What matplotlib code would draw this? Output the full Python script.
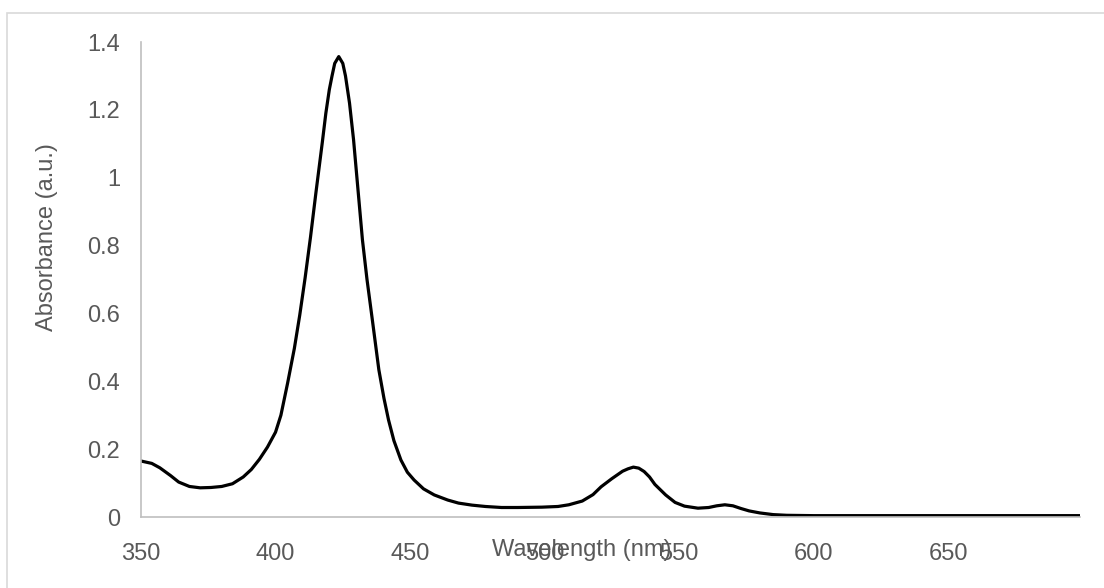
import matplotlib
matplotlib.use('Agg')
from matplotlib import pyplot as plt
from matplotlib.patches import Rectangle

# absorbance spectrum
wavelength = [350, 354, 357, 361, 364, 368, 372, 376, 380, 384, 388, 391, 394, 397, 400,
              402, 404.5, 407, 409, 411, 413, 415, 417.4, 418.7, 420, 421, 422, 423.5, 425,
              426, 427.5, 429, 430.7, 432.3, 434, 436, 438.4, 440.3, 442, 444, 446.6, 449,
              451.5, 455, 459, 464, 468, 473, 478, 484, 490, 499, 505, 509, 514, 518, 521,
              525, 529, 531, 533, 535, 537, 539, 541, 545, 548.5, 552, 557, 561, 564, 567,
              570, 573, 576, 580, 585, 590, 600, 620, 650, 680, 699]
absorbance = [0.165, 0.158, 0.145, 0.122, 0.103, 0.090, 0.086, 0.087, 0.090, 0.098, 0.118,
              0.140, 0.170, 0.206, 0.250, 0.300, 0.395, 0.497, 0.595, 0.705, 0.825, 0.955,
              1.105, 1.190, 1.260, 1.300, 1.337, 1.357, 1.337, 1.300, 1.220, 1.112, 0.960,
              0.817, 0.700, 0.580, 0.434, 0.350, 0.286, 0.225, 0.168, 0.132, 0.109, 0.083,
              0.065, 0.050, 0.041, 0.035, 0.031, 0.028, 0.028, 0.029, 0.031, 0.036, 0.047,
              0.066, 0.089, 0.113, 0.135, 0.142, 0.147, 0.144, 0.134, 0.118, 0.096, 0.065,
              0.043, 0.032, 0.026, 0.028, 0.033, 0.036, 0.033, 0.025, 0.018, 0.012, 0.007,
              0.005, 0.004, 0.004, 0.004, 0.004, 0.004]

x_ticks = [350, 400, 450, 500, 550, 600, 650]
y_ticks = [0, 0.2, 0.4, 0.6, 0.8, 1.0, 1.2, 1.4]
y_labels = ['0', '0.2', '0.4', '0.6', '0.8', '1', '1.2', '1.4']

plt.rcParams['font.family'] = ['Liberation Sans', 'DejaVu Sans']
W, H = 1104, 588
fig = plt.figure(figsize=(W / 100, H / 100), dpi=100)

# chart frame (only top and left edges fall inside the picture)
fig.patches.append(Rectangle((7 / W, -0.1), 1.2, 1 - 13 / H + 0.1, transform=fig.transFigure,
                             fill=False, edgecolor='#D9D9D9', linewidth=1.2))

ax = fig.add_axes([141 / W, 1 - 517 / H, (1080 - 141) / W, (517 - 42) / H])
ax.plot(wavelength, absorbance, color='black', linewidth=2.3,
        solid_capstyle='round', solid_joinstyle='round')
ax.set_xlim(350, 699)
ax.set_ylim(0, 1.4)
ax.set_xticks(x_ticks)
ax.set_xticklabels([str(t) for t in x_ticks])
ax.set_yticks(y_ticks)
ax.set_yticklabels(y_labels)
ax.tick_params(length=0, labelsize=17, colors='#595959')
ax.tick_params(axis='x', pad=19)
ax.tick_params(axis='y', pad=15)
for side in ['top', 'right']:
    ax.spines[side].set_visible(False)
for side in ['left', 'bottom']:
    ax.spines[side].set_color('#BFBFBF')
    ax.spines[side].set_linewidth(1.2)

fig.text(582 / W, 1 - 550 / H, 'Wavelength (nm)', ha='center', va='center',
         fontsize=17, color='#595959')
fig.text(47 / W, 1 - 237 / H, 'Absorbance (a.u.)', ha='center', va='center',
         rotation=90, fontsize=17, color='#595959')

fig.savefig('out.png', dpi=100)
plt.close()
